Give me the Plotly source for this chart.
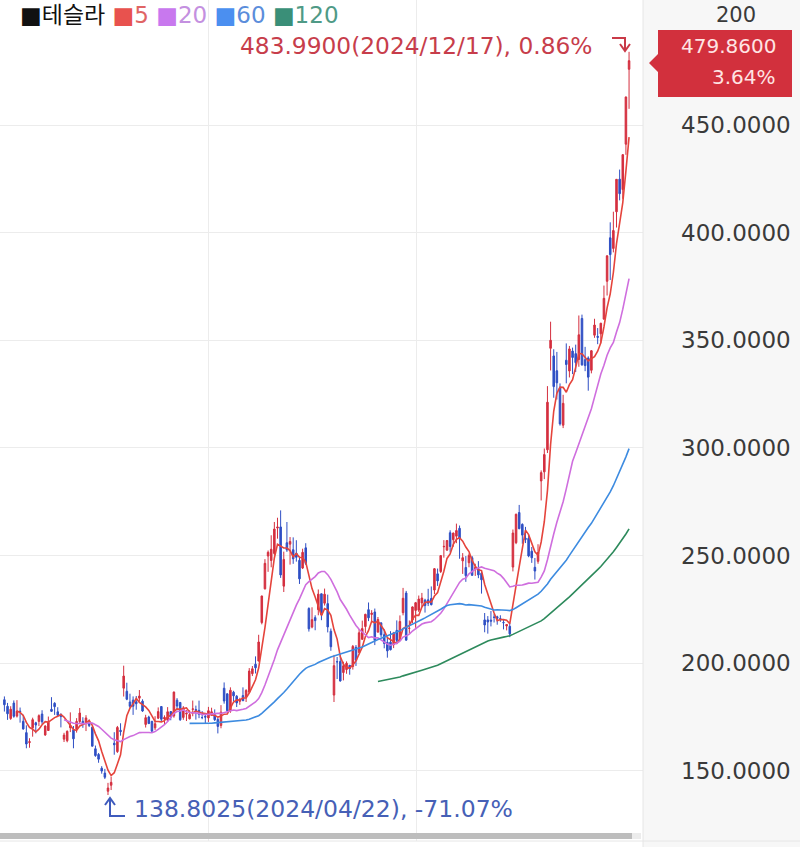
import plotly.graph_objects as go
import pandas as pd

dates = ["2024-03-05","2024-03-06","2024-03-07","2024-03-08","2024-03-11","2024-03-12","2024-03-13","2024-03-14","2024-03-15","2024-03-18",
"2024-03-19","2024-03-20","2024-03-21","2024-03-22","2024-03-25","2024-03-26","2024-03-27","2024-03-28",
"2024-04-01","2024-04-02","2024-04-03","2024-04-04","2024-04-05","2024-04-08","2024-04-09","2024-04-10","2024-04-11","2024-04-12",
"2024-04-15","2024-04-16","2024-04-17","2024-04-18","2024-04-19","2024-04-22","2024-04-23","2024-04-24","2024-04-25","2024-04-26","2024-04-29","2024-04-30",
"2024-05-01","2024-05-02","2024-05-03","2024-05-06","2024-05-07","2024-05-08","2024-05-09","2024-05-10","2024-05-13","2024-05-14","2024-05-15",
"2024-05-16","2024-05-17","2024-05-20","2024-05-21","2024-05-22","2024-05-23","2024-05-24","2024-05-28","2024-05-29","2024-05-30","2024-05-31",
"2024-06-03","2024-06-04","2024-06-05","2024-06-06","2024-06-07","2024-06-10","2024-06-11","2024-06-12","2024-06-13","2024-06-14",
"2024-06-17","2024-06-18","2024-06-20","2024-06-21","2024-06-24","2024-06-25","2024-06-26","2024-06-27","2024-06-28",
"2024-07-01","2024-07-02","2024-07-03","2024-07-05","2024-07-08","2024-07-09","2024-07-10","2024-07-11","2024-07-12","2024-07-15","2024-07-16",
"2024-07-17","2024-07-18","2024-07-19","2024-07-22","2024-07-23","2024-07-24","2024-07-25","2024-07-26","2024-07-29","2024-07-30","2024-07-31",
"2024-08-01","2024-08-02","2024-08-05","2024-08-06","2024-08-07","2024-08-08","2024-08-09","2024-08-12","2024-08-13","2024-08-14","2024-08-15",
"2024-08-16","2024-08-19","2024-08-20","2024-08-21","2024-08-22","2024-08-23","2024-08-26","2024-08-27","2024-08-28","2024-08-29","2024-08-30",
"2024-09-03","2024-09-04","2024-09-05","2024-09-06","2024-09-09","2024-09-10","2024-09-11","2024-09-12","2024-09-13","2024-09-16",
"2024-09-17","2024-09-18","2024-09-19","2024-09-20","2024-09-23","2024-09-24","2024-09-25","2024-09-26","2024-09-27","2024-09-30",
"2024-10-01","2024-10-02","2024-10-03","2024-10-04","2024-10-07","2024-10-08","2024-10-09","2024-10-10","2024-10-11","2024-10-14","2024-10-15",
"2024-10-16","2024-10-17","2024-10-18","2024-10-21","2024-10-22","2024-10-23","2024-10-24","2024-10-25","2024-10-28","2024-10-29","2024-10-30","2024-10-31",
"2024-11-01","2024-11-04","2024-11-05","2024-11-06","2024-11-07","2024-11-08","2024-11-11","2024-11-12","2024-11-13","2024-11-14","2024-11-15",
"2024-11-18","2024-11-19","2024-11-20","2024-11-21","2024-11-22","2024-11-25","2024-11-26","2024-11-27","2024-11-29",
"2024-12-02","2024-12-03","2024-12-04","2024-12-05","2024-12-06","2024-12-09","2024-12-10","2024-12-11","2024-12-12","2024-12-13","2024-12-16","2024-12-17"]

opens = [183.05,179.99,174.35,181.50,175.45,177.77,173.05,167.77,163.16,170.02,172.36,173.00,176.39,166.69,168.76,178.58,181.41,177.45,
176.17,164.75,164.02,170.07,169.08,169.34,172.91,173.04,172.55,172.34,170.24,160.28,157.64,151.25,148.97,140.56,143.33,162.84,158.96,168.85,188.42,186.98,
182.00,182.86,182.10,183.80,182.40,171.59,175.01,173.05,170.00,174.50,179.90,174.10,173.55,177.56,175.51,182.85,181.80,174.84,176.40,174.19,178.58,178.50,
178.13,174.78,175.35,174.60,176.13,176.06,173.92,171.12,188.39,185.80,177.92,186.56,184.68,182.30,184.97,184.40,186.54,195.17,199.55,
201.02,218.89,234.56,249.81,247.71,251.00,262.80,263.30,235.80,255.97,255.31,252.73,251.09,247.79,244.21,253.60,225.42,216.80,221.19,224.90,232.25,227.90,
227.69,214.88,185.22,200.75,200.77,195.70,197.05,199.02,198.47,207.39,205.02,211.15,217.07,224.88,222.67,223.82,214.46,218.75,213.25,209.72,209.80,208.63,
215.26,210.59,223.49,232.60,216.20,220.07,224.55,224.66,228.00,229.30,229.45,230.09,234.00,241.52,242.61,254.08,252.54,260.60,257.38,259.04,
262.67,247.55,244.48,246.69,249.00,243.56,243.82,241.81,220.13,220.13,220.01,221.40,221.59,220.71,218.90,217.31,217.13,244.68,256.01,270.00,264.51,258.04,257.99,
252.04,244.56,247.34,284.67,288.89,299.14,346.30,342.74,335.85,327.69,310.57,340.73,335.76,345.00,343.81,341.09,360.14,341.00,341.80,336.08,
352.38,351.80,353.00,359.87,377.42,397.61,392.68,409.70,424.84,420.00,441.09,475.90]

highs = [184.59,181.58,180.04,182.73,182.87,179.43,176.05,171.17,165.18,174.72,172.82,176.25,178.18,171.20,175.24,184.25,181.91,179.57,
176.75,167.69,168.82,177.19,170.86,174.50,179.22,174.93,175.88,173.81,170.69,161.77,158.33,152.20,150.94,144.44,147.26,167.97,170.88,172.12,198.87,190.95,
185.86,184.60,184.78,187.56,183.26,176.06,175.62,173.06,175.40,179.49,180.00,175.79,179.63,177.75,186.88,183.80,181.90,180.08,178.25,178.15,182.67,180.32,
182.64,177.76,176.15,179.73,179.35,178.57,174.75,180.55,191.08,186.00,188.81,187.20,185.21,183.95,188.80,187.97,197.76,198.72,203.20,
213.23,231.30,248.35,252.37,259.44,265.61,267.59,271.00,251.84,265.60,258.62,258.47,257.14,249.44,253.21,255.76,225.99,226.00,222.28,234.27,232.41,234.68,
231.87,216.13,203.88,202.90,203.49,200.70,200.88,199.26,208.49,208.44,215.88,219.80,222.98,228.22,224.66,225.41,221.48,219.09,215.66,211.84,214.89,214.57,
219.90,222.22,235.00,233.60,219.87,226.40,228.47,231.45,232.67,229.96,234.57,235.68,244.24,243.99,250.00,257.19,257.05,261.75,260.70,264.86,
263.98,251.16,249.79,250.96,249.83,246.21,247.43,242.79,223.34,221.91,224.26,222.82,222.08,222.28,220.48,218.22,218.72,262.12,269.49,273.54,264.98,263.35,259.75,
254.00,248.90,255.28,289.59,299.75,328.71,358.64,345.84,344.60,329.98,324.68,348.55,347.38,346.60,347.99,361.53,361.93,346.96,342.55,345.45,
360.00,355.69,358.10,375.43,389.49,404.80,409.73,424.88,429.30,436.30,463.19,483.99]

lows = [177.57,173.70,173.70,174.70,174.80,172.41,169.15,160.51,160.76,165.90,167.42,170.82,171.80,166.30,168.73,177.38,176.00,175.30,
170.21,163.43,163.28,168.01,160.51,167.79,171.92,170.01,168.51,170.36,161.38,156.55,153.78,148.70,146.22,138.80,141.11,157.51,158.36,166.37,184.54,182.84,
179.01,176.02,178.42,182.20,177.40,170.15,172.25,167.75,169.00,174.07,173.11,171.43,172.75,173.52,174.71,178.12,173.26,173.73,173.16,173.93,175.38,173.82,
174.49,174.00,172.13,172.73,175.58,173.17,167.41,169.80,181.23,176.92,177.00,182.37,179.66,180.69,182.55,182.01,186.36,194.05,195.26,
200.85,218.06,234.25,242.46,244.57,250.30,257.86,239.65,233.09,251.73,245.80,246.18,247.20,236.83,243.75,245.63,214.71,216.23,215.33,222.28,220.00,226.79,
214.33,205.78,182.00,192.67,191.48,192.04,195.11,194.67,197.06,198.75,204.82,210.80,214.09,219.56,218.86,208.44,214.21,212.11,206.94,202.59,205.97,207.03,
209.64,210.57,222.25,210.51,213.67,218.64,216.48,223.83,226.32,223.53,226.55,226.88,232.13,235.92,241.92,249.05,252.28,251.53,254.12,255.77,
248.53,241.50,237.81,244.58,240.70,240.56,239.51,232.34,214.38,213.74,217.12,218.93,217.90,219.23,215.73,215.26,212.11,242.65,255.32,262.24,255.51,255.82,249.25,
246.63,238.88,246.21,275.62,285.52,297.66,336.00,323.31,322.50,310.37,309.22,330.01,332.75,334.30,335.28,337.70,338.20,335.66,326.59,334.65,
351.15,348.20,348.60,359.50,370.80,378.01,390.85,402.38,415.00,415.71,436.15,457.51]

closes = [180.74,176.54,178.65,175.34,177.77,177.54,169.48,162.50,163.57,173.80,171.32,175.66,172.82,170.83,172.63,177.67,179.83,175.79,
175.22,166.63,168.38,171.11,164.90,172.98,176.88,171.76,174.60,171.05,161.48,157.11,155.45,149.93,147.05,142.05,144.68,162.13,170.18,168.29,194.05,183.28,
179.99,180.01,181.19,184.76,177.81,174.72,171.97,168.47,171.89,177.55,173.99,174.84,177.46,174.95,186.60,180.11,173.74,179.24,176.75,176.19,178.79,178.08,
176.29,174.77,175.00,177.94,177.48,173.79,170.66,177.29,182.47,178.01,187.44,184.86,181.57,183.01,182.58,187.35,196.37,197.42,197.88,
209.86,231.26,246.39,251.52,252.94,262.33,263.26,241.03,248.23,252.64,256.56,248.50,249.23,239.20,251.51,246.38,215.99,220.25,219.80,232.10,222.62,232.07,
216.86,207.67,198.88,200.64,191.76,198.84,200.00,197.49,207.83,201.38,214.14,216.12,222.72,221.10,223.27,210.66,220.32,213.21,209.21,205.75,206.28,214.11,
210.60,219.41,230.17,210.73,216.27,226.17,228.13,229.81,230.29,226.78,227.87,227.20,243.92,238.25,250.00,254.27,257.02,254.22,260.46,261.63,
258.02,249.02,240.66,250.08,240.83,244.50,241.05,238.77,217.80,219.16,219.57,221.33,220.89,220.70,218.85,217.97,213.65,260.48,269.19,262.51,259.52,257.55,249.85,
248.98,242.84,251.44,288.53,296.91,321.22,350.00,328.49,330.24,311.18,320.72,338.74,346.00,342.03,339.64,352.56,338.59,338.23,332.89,345.16,
357.09,351.42,357.93,369.49,389.22,389.79,400.99,424.77,418.10,436.23,463.02,479.86]

ma_periods = [5, 20, 60, 120]
ma_colors = ["#e5443c", "#cf6ede", "#3d8be0", "#2d8a5c"]
ytick_vals = [150, 200, 250, 300, 350, 400, 450]

W, H = 800, 847
PW, PH = 643, 841           # plot area size in px (left=0, top=0)
FONT = "DejaVu Sans, Noto Sans CJK KR, sans-serif"

def px(x):
    return x / PW

def py(y):
    return 1 - y / PH

idx = list(range(len(dates)))
df = pd.DataFrame({"o": opens, "h": highs, "l": lows, "c": closes})

fig = go.Figure()
fig.add_trace(go.Candlestick(
    x=idx, open=df.o, high=df.h, low=df.l, close=df.c,
    text=dates, hoverinfo="text",
    increasing=dict(line=dict(color="#d42f3f", width=1), fillcolor="#d42f3f"),
    decreasing=dict(line=dict(color="#2f4fc4", width=1), fillcolor="#2f4fc4"),
    whiskerwidth=0, showlegend=False,
))
for p, col in zip(ma_periods, ma_colors):
    ma = df.c.rolling(p).mean()
    fig.add_trace(go.Scatter(x=idx, y=ma, mode="lines", line=dict(color=col, width=1.6),
                             showlegend=False, hoverinfo="skip"))

# pixel <-> data mapping
x0px, dxpx = 4.4, 3.139
xr = [(0 - x0px) / dxpx, (PW - x0px) / dxpx]
ppu = 2.153
yr = [450 - (PH - 125) / ppu, 450 + 125 / ppu]

fig.update_layout(
    width=W, height=H,
    margin=dict(l=0, r=W - PW, t=0, b=H - PH),
    paper_bgcolor="white", plot_bgcolor="white",
    font=dict(family=FONT, size=23, color="#333"),
    xaxis=dict(range=xr, rangeslider=dict(visible=False), showticklabels=False,
               tickvals=[(208 - x0px) / dxpx, (416 - x0px) / dxpx],
               showgrid=True, gridcolor="#ececec", gridwidth=1, zeroline=False, showline=False, ticks=""),
    yaxis=dict(range=yr, side="right", tickvals=ytick_vals, tickformat=".4f",
               showgrid=True, gridcolor="#ececec", gridwidth=1, zeroline=False, showline=False,
               ticks="", ticklabelstandoff=37,
               tickfont=dict(family=FONT, size=23, color="#3a3a3a")),
    hovermode=False,
)

shapes = []
# right panel background
shapes.append(dict(type="rect", xref="paper", yref="paper", x0=px(PW), x1=px(W), y0=py(H), y1=1,
                   fillcolor="#f7f7f7", line=dict(width=0), layer="below"))
shapes.append(dict(type="line", xref="paper", yref="paper", x0=px(PW), x1=px(PW), y0=py(H), y1=1,
                   line=dict(color="#e6e6e6", width=1)))
# bottom line
shapes.append(dict(type="line", xref="paper", yref="paper", x0=0, x1=px(W), y0=py(841), y1=py(841),
                   line=dict(color="#e6e6e6", width=1)))
# scrollbar
shapes.append(dict(type="rect", xref="paper", yref="paper", x0=0, x1=px(641), y0=py(839), y1=py(833),
                   fillcolor="#ececec", line=dict(width=0)))
shapes.append(dict(type="rect", xref="paper", yref="paper", x0=0, x1=px(632), y0=py(839), y1=py(833),
                   fillcolor="#bdbdbd", line=dict(width=0)))
# price box
bx = [(658, 30), (792, 30), (792, 97), (658, 97), (658, 72), (649, 63), (658, 54)]
path = "M " + " L ".join(f"{px(a)},{py(b)}" for a, b in bx) + " Z"
shapes.append(dict(type="path", xref="paper", yref="paper", path=path, fillcolor="#d2303d",
                   line=dict(width=0)))
# high marker arrow (red)
shapes.append(dict(type="path", xref="paper", yref="paper",
                   path=f"M {px(612)},{py(38)} L {px(625)},{py(38)} L {px(625)},{py(50)}",
                   line=dict(color="#c93a48", width=2)))
shapes.append(dict(type="path", xref="paper", yref="paper",
                   path=f"M {px(620)},{py(44)} L {px(625)},{py(51)} L {px(630)},{py(44)}",
                   line=dict(color="#c93a48", width=2)))
# low marker arrow (blue)
shapes.append(dict(type="path", xref="paper", yref="paper",
                   path=f"M {px(125)},{py(816)} L {px(110)},{py(816)} L {px(110)},{py(799)}",
                   line=dict(color="#3f5bbd", width=2)))
shapes.append(dict(type="path", xref="paper", yref="paper",
                   path=f"M {px(105)},{py(805)} L {px(110)},{py(798)} L {px(115)},{py(805)}",
                   line=dict(color="#3f5bbd", width=2)))
fig.update_layout(shapes=shapes)

legend_items = [("테슬라", "#111111", "#111111"), ("5", "#e8524e", "#e06464"),
                ("20", "#c878ee", "#c490e0"), ("60", "#4b8ff0", "#5b8ddb"),
                ("120", "#3a8f78", "#4f9a86")]
legend_txt = " ".join(f"<span style='color:{sq}'>■</span><span style='color:{tc}'>{t}</span>"
                      for t, sq, tc in legend_items)

ann = [
    dict(xref="paper", yref="paper", x=px(18), y=py(15), xanchor="left", yanchor="middle",
         text=legend_txt, showarrow=False, font=dict(size=23)),
    dict(xref="paper", yref="paper", x=px(594), y=py(46), xanchor="right", yanchor="middle",
         text="483.9900(2024/12/17), 0.86%", showarrow=False, font=dict(size=23.3, color="#c73d4b")),
    dict(xref="paper", yref="paper", x=px(132), y=py(809), xanchor="left", yanchor="middle",
         text="138.8025(2024/04/22), -71.07%", showarrow=False, font=dict(size=23.5, color="#4660b6")),
    dict(xref="paper", yref="paper", x=px(778), y=py(46), xanchor="right", yanchor="middle",
         text="479.8600", showarrow=False, font=dict(size=20, color="#ffe4e4")),
    dict(xref="paper", yref="paper", x=px(778), y=py(77), xanchor="right", yanchor="middle",
         text="3.64%", showarrow=False, font=dict(size=20, color="#ffe4e4")),
    dict(xref="paper", yref="paper", x=px(736), y=py(15), xanchor="center", yanchor="middle",
         text="200", showarrow=False, font=dict(size=21, color="#3a3a3a")),
]
fig.update_layout(annotations=ann)

fig.write_html("out.html")
